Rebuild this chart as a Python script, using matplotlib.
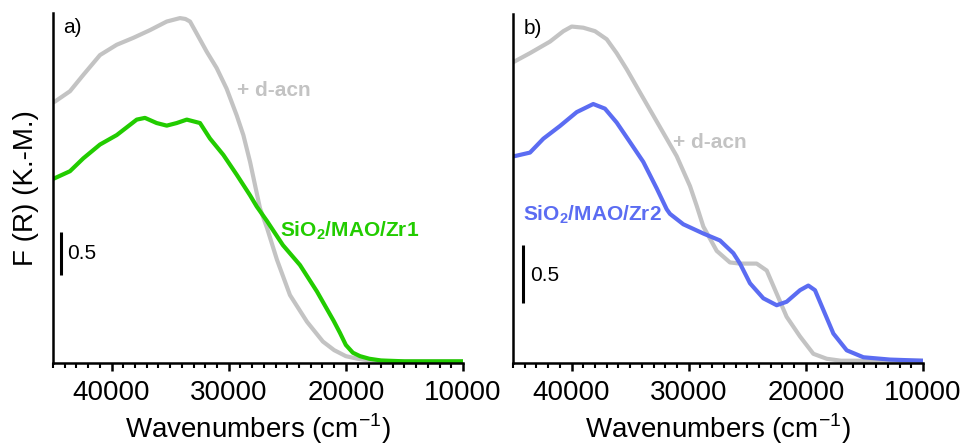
import matplotlib
matplotlib.use("Agg")
import matplotlib.pyplot as plt
from matplotlib.ticker import MultipleLocator

plt.rcParams['font.family'] = ['Liberation Sans', 'DejaVu Sans']
plt.rcParams['mathtext.fontset'] = 'custom'
plt.rcParams['mathtext.rm'] = 'Liberation Sans'
plt.rcParams['mathtext.bf'] = 'Liberation Sans:bold'

# ---- data: panel a ----
a_gray_x = [45000, 44830, 43550, 42410, 40990, 39560, 38150, 36720, 35290, 34160, 33700, 33300, 32730,
            31880, 31030, 30180, 29320, 28750, 28180, 27330, 26730, 25880, 24770, 23320, 21960,
            21000, 20000, 19000, 18000, 16000, 10000]
a_gray_y = [3.01, 3.02, 3.14, 3.33, 3.56, 3.68, 3.76, 3.85, 3.95, 3.99, 3.98, 3.95, 3.81,
            3.60, 3.41, 3.17, 2.86, 2.63, 2.32, 1.78, 1.55, 1.18, 0.77, 0.46, 0.23,
            0.13, 0.06, 0.03, 0.01, 0.0, 0.0]
a_green_x = [45000, 44830, 43550, 42410, 40990, 39560, 37850, 37150, 36150, 35290, 34440, 33580, 32450,
             31600, 30460, 29320, 28180, 27610, 26730, 25370, 23920, 22460, 21040, 20500, 20000,
             19400, 18790, 18000, 17000, 15000, 10000]
a_green_y = [2.12, 2.13, 2.21, 2.36, 2.52, 2.63, 2.81, 2.83, 2.77, 2.74, 2.77, 2.81, 2.77,
             2.59, 2.40, 2.17, 1.93, 1.80, 1.63, 1.35, 1.12, 0.81, 0.47, 0.33, 0.19,
             0.10, 0.06, 0.03, 0.01, 0.0, 0.0]

# ---- data: panel b ----
b_gray_x = [45000, 44830, 43550, 41840, 40700, 39990, 39000, 38000, 37000, 36150, 35290, 34160, 33020,
            31880, 31030, 29890, 29320, 28750, 27610, 26480, 25620, 24200, 23340, 22490, 21640,
            20500, 19360, 18220, 17000, 10000]
b_gray_y = [2.58, 2.59, 2.66, 2.76, 2.85, 2.89, 2.88, 2.85, 2.78, 2.66, 2.52, 2.32, 2.12,
            1.92, 1.77, 1.51, 1.34, 1.16, 0.95, 0.85, 0.84, 0.84, 0.78, 0.58, 0.38,
            0.21, 0.06, 0.017, 0.0, 0.0]
b_blue_x = [45000, 44830, 43550, 42410, 40990, 39560, 38150, 37150, 36150, 35010, 33880, 32730, 31880,
            31600, 30460, 28750, 27330, 26190, 25620, 24770, 23630, 22490, 21640, 20500, 19790,
            19220, 18510, 17650, 16510, 15090, 12820, 10000]
b_blue_y = [1.77, 1.77, 1.80, 1.92, 2.03, 2.15, 2.22, 2.18, 2.06, 1.89, 1.72, 1.49, 1.31,
            1.27, 1.18, 1.10, 1.04, 0.93, 0.84, 0.67, 0.54, 0.48, 0.51, 0.61, 0.65,
            0.61, 0.44, 0.235, 0.09, 0.03, 0.01, 0.0]

xticks = [40000, 30000, 20000, 10000]
panel_labels = ['a)', 'b)']

GRAY = '#c3c3c3'
GREEN = '#22cc00'
BLUE = '#5b6cf2'

fig = plt.figure(figsize=(9.67, 4.46), dpi=100)
ax1 = fig.add_axes([0.0548, 0.186, 0.424, 0.785])
ax2 = fig.add_axes([0.5305, 0.186, 0.424, 0.783])

kw = dict(lw=3, solid_joinstyle='round', solid_capstyle='round')
ax1.plot(a_gray_x, a_gray_y, color=GRAY, **kw)
ax1.plot(a_green_x, a_green_y, color=GREEN, **kw)
ax2.plot(b_gray_x, b_gray_y, color=GRAY, **kw)
ax2.plot(b_blue_x, b_blue_y, color=BLUE, **kw)

ax1.set_ylim(-0.02, 4.05)
ax2.set_ylim(-0.02, 3.0)

for ax, lab in zip([ax1, ax2], panel_labels):
    ax.set_xlim(45000, 10000)
    ax.set_xticks(xticks)
    ax.set_xticklabels([str(t) for t in xticks])
    ax.xaxis.set_minor_locator(MultipleLocator(1000))
    ax.set_yticks([])
    for s in ['top', 'right']:
        ax.spines[s].set_visible(False)
    for s in ['left', 'bottom']:
        ax.spines[s].set_linewidth(1.8)
    ax.tick_params(axis='x', which='major', direction='out', length=6, width=1.8, labelsize=20, pad=6)
    ax.tick_params(axis='x', which='minor', direction='out', length=3.5, width=1.5)
    ax.set_xlabel('Wavenumbers (cm$^{\\mathregular{-1}}$)', fontsize=20, labelpad=4)
    ax.text(0.025, 0.985, lab, transform=ax.transAxes, fontsize=15, va='top', ha='left')

ax1.set_ylabel('F (R) (K.-M.)', fontsize=20, labelpad=10)

# scale bars
ax1.plot([44320, 44320], [1.0, 1.5], color='black', lw=2.2, solid_capstyle='butt')
ax1.text(43800, 1.25, '0.5', fontsize=15, va='center', ha='left')
ax2.plot([44150, 44150], [0.5, 1.0], color='black', lw=2.2, solid_capstyle='butt')
ax2.text(43550, 0.74, '0.5', fontsize=15, va='center', ha='left')

# curve labels
ax1.text(29300, 3.15, '+ d-acn', color=GRAY, fontsize=15, fontweight='bold', va='center', ha='left')
ax1.text(25650, 1.52, r'SiO$_\mathbf{2}$/MAO/Zr1', color=GREEN, fontsize=15, fontweight='bold',
         va='center', ha='left')
ax2.text(31350, 1.89, '+ d-acn', color=GRAY, fontsize=15, fontweight='bold', va='center', ha='left')
ax2.text(44150, 1.26, r'SiO$_\mathbf{2}$/MAO/Zr2', color=BLUE, fontsize=15, fontweight='bold',
         va='center', ha='left')

fig.savefig('out.png', dpi=100)
